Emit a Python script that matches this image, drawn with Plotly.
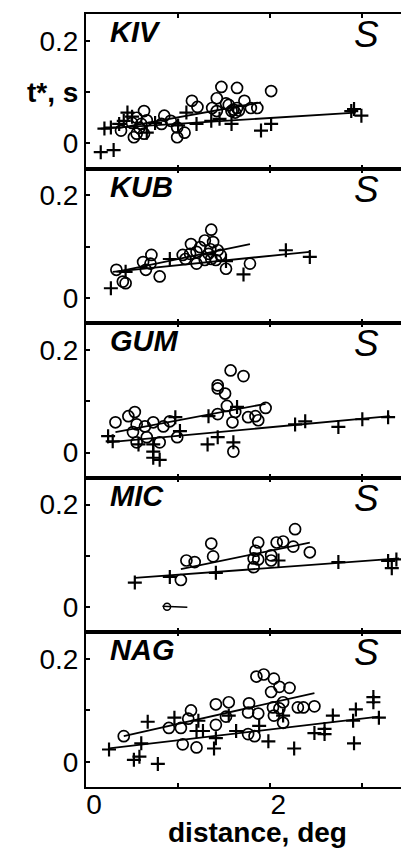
import plotly.graph_objects as go
from plotly.subplots import make_subplots

stations = ["KIV", "KUB", "GUM", "MIC", "NAG"]
phase_label = "S"

# ---------------- KIV ----------------
kiv_circ_x = [1.47, 1.64, 2.01, 1.15, 1.21, 1.42, 1.37, 1.42, 1.72, 1.79, 1.86, 1.64, 1.58, 1.55, 1.60, 1.52,
              0.63, 0.55, 0.60, 0.55, 0.63, 0.52, 0.58, 0.85, 0.82, 0.92, 0.99, 0.99, 1.07, 0.38, 0.50, 0.66,
              1.66, 1.62]
kiv_circ_y = [0.110, 0.108, 0.102, 0.083, 0.071, 0.088, 0.069, 0.063, 0.083, 0.069, 0.069, 0.069, 0.063, 0.075, 0.066, 0.078,
              0.063, 0.050, 0.038, 0.019, 0.019, 0.012, 0.030, 0.054, 0.038, 0.044, 0.031, 0.012, 0.021, 0.025, 0.040, 0.045,
              0.064, 0.060]
kiv_cross_x = [0.16, 0.30, 0.20, 0.27, 0.45, 0.41, 0.36, 0.66, 1.09, 1.20, 1.36, 1.58, 1.90, 2.01, 2.88, 2.99, 2.91,
               0.50, 0.75, 1.00, 1.45]
kiv_cross_y = [-0.017, -0.013, 0.029, 0.031, 0.060, 0.044, 0.038, 0.021, 0.060, 0.038, 0.044, 0.038, 0.025, 0.038, 0.063, 0.054, 0.067,
               0.052, 0.040, 0.035, 0.048]
kiv_fit_circ_x = [0.35, 1.90]
kiv_fit_circ_y = [0.030, 0.080]
kiv_fit_cross_x = [0.16, 2.93]
kiv_fit_cross_y = [0.029, 0.060]

# ---------------- KUB ----------------
kub_circ_x = [1.36, 1.14, 1.29, 1.38, 1.24, 1.35, 1.43, 1.20, 1.33, 1.46, 1.13, 1.08, 1.20, 1.29, 1.36, 1.41,
              1.78, 1.52, 0.71, 0.62, 0.70, 0.65, 0.80, 0.33, 0.43, 0.40, 1.05]
kub_circ_y = [0.133, 0.105, 0.112, 0.109, 0.099, 0.095, 0.093, 0.090, 0.086, 0.084, 0.086, 0.076, 0.067, 0.074, 0.076, 0.074,
              0.067, 0.057, 0.084, 0.070, 0.067, 0.055, 0.042, 0.055, 0.029, 0.032, 0.084]
kub_cross_x = [0.27, 0.91, 1.71, 2.17, 2.43, 0.43, 1.52]
kub_cross_y = [0.019, 0.076, 0.046, 0.093, 0.080, 0.051, 0.072]
kub_fit_circ_x = [0.33, 1.78]
kub_fit_circ_y = [0.051, 0.105]
kub_fit_cross_x = [0.29, 2.43]
kub_fit_cross_y = [0.051, 0.090]

# ---------------- GUM ----------------
gum_circ_x = [1.57, 1.71, 1.43, 1.43, 1.51, 1.53, 1.43, 1.62, 1.59, 1.76, 1.84, 1.87, 1.95, 1.60,
              0.32, 0.46, 0.53, 0.55, 0.64, 0.73, 0.84, 0.91, 0.51, 0.66, 0.55, 0.80, 0.99]
gum_circ_y = [0.160, 0.149, 0.131, 0.125, 0.115, 0.091, 0.075, 0.079, 0.059, 0.069, 0.071, 0.063, 0.087, 0.002,
              0.059, 0.071, 0.079, 0.055, 0.051, 0.059, 0.051, 0.061, 0.040, 0.030, 0.020, 0.020, 0.030]
gum_cross_x = [0.24, 0.29, 0.57, 0.73, 0.73, 0.73, 0.80, 0.97, 1.02, 1.33, 1.32, 1.43, 1.60, 1.64,
               2.27, 2.38, 2.74, 3.00, 3.28]
gum_cross_y = [0.032, 0.022, 0.016, 0.016, 0.002, -0.010, -0.014, 0.069, 0.042, 0.071, 0.016, 0.030, 0.020, 0.089,
               0.055, 0.061, 0.050, 0.065, 0.069]
gum_fit_circ_x = [0.32, 1.95]
gum_fit_circ_y = [0.040, 0.095]
gum_fit_cross_x = [0.23, 3.30]
gum_fit_cross_y = [0.020, 0.071]

# ---------------- MIC ----------------
mic_circ_x = [2.27, 1.36, 1.38, 1.09, 1.18, 1.87, 1.84, 1.82, 1.87, 1.82, 2.01, 2.01, 2.07, 2.14, 2.25, 2.43, 1.03]
mic_circ_y = [0.152, 0.124, 0.099, 0.091, 0.088, 0.126, 0.110, 0.095, 0.093, 0.078, 0.101, 0.091, 0.126, 0.128, 0.118, 0.107, 0.053]
mic_cross_x = [0.53, 0.91, 1.41, 2.09, 2.74, 3.28, 3.32, 3.37]
mic_cross_y = [0.048, 0.059, 0.067, 0.091, 0.088, 0.090, 0.076, 0.093]
mic_fit_circ_x = [1.03, 2.43]
mic_fit_circ_y = [0.074, 0.126]
mic_fit_cross_x = [0.53, 3.40]
mic_fit_cross_y = [0.057, 0.095]
mic_mark_x = [0.83, 1.10]
mic_mark_y = [0.002, 0.000]
mic_dot_x = [0.88]
mic_dot_y = [0.001]

# ---------------- NAG ----------------
nag_circ_x = [0.41, 0.90, 1.03, 1.14, 1.11, 1.05, 1.20, 1.41, 1.55, 1.41, 1.52, 1.76, 1.77, 1.87, 1.76, 1.83,
              1.85, 1.93, 2.04, 2.10, 2.01, 2.21, 2.14, 2.04, 2.03, 2.10, 2.14, 2.30, 2.36, 2.48]
nag_circ_y = [0.050, 0.066, 0.066, 0.100, 0.084, 0.034, 0.028, 0.112, 0.116, 0.072, 0.088, 0.096, 0.114, 0.094, 0.054, 0.050,
              0.166, 0.170, 0.162, 0.146, 0.136, 0.144, 0.116, 0.090, 0.106, 0.104, 0.076, 0.106, 0.106, 0.108]
nag_cross_x = [0.25, 0.52, 0.58, 0.78, 0.67, 0.60, 0.96, 1.20, 1.27, 1.22, 1.39, 1.41, 1.55, 1.63, 1.88, 1.98,
               2.14, 2.26, 2.48, 2.59, 2.59, 2.68, 2.90, 2.91, 2.93, 3.12, 3.12, 3.18]
nag_cross_y = [0.024, 0.004, 0.010, -0.004, 0.078, 0.036, 0.086, 0.060, 0.060, 0.080, 0.026, 0.046, 0.090, 0.060, 0.070, 0.040,
               0.090, 0.026, 0.056, 0.054, 0.064, 0.090, 0.080, 0.036, 0.102, 0.116, 0.126, 0.086]
nag_fit_circ_x = [0.41, 2.48]
nag_fit_circ_y = [0.050, 0.134]
nag_fit_cross_x = [0.25, 3.18]
nag_fit_cross_y = [0.026, 0.088]

panels = [
    (kiv_circ_x, kiv_circ_y, kiv_cross_x, kiv_cross_y, kiv_fit_circ_x, kiv_fit_circ_y, kiv_fit_cross_x, kiv_fit_cross_y),
    (kub_circ_x, kub_circ_y, kub_cross_x, kub_cross_y, kub_fit_circ_x, kub_fit_circ_y, kub_fit_cross_x, kub_fit_cross_y),
    (gum_circ_x, gum_circ_y, gum_cross_x, gum_cross_y, gum_fit_circ_x, gum_fit_circ_y, gum_fit_cross_x, gum_fit_cross_y),
    (mic_circ_x, mic_circ_y, mic_cross_x, mic_cross_y, mic_fit_circ_x, mic_fit_circ_y, mic_fit_cross_x, mic_fit_cross_y),
    (nag_circ_x, nag_circ_y, nag_cross_x, nag_cross_y, nag_fit_circ_x, nag_fit_circ_y, nag_fit_cross_x, nag_fit_cross_y),
]

y_tickvals = [0, 0.1, 0.2]
x_tickvals = [0, 1, 2, 3]
x_ticktext = ["0", "", "2", ""]
x_title = "distance, deg"
y_title = "t*, s"

FONT = "Liberation Sans, Arial, Helvetica, sans-serif"

fig = make_subplots(rows=5, cols=1, shared_xaxes=True, vertical_spacing=0)

for i, (cx, cy, px, py, fcx, fcy, fpx, fpy) in enumerate(panels):
    r = i + 1
    fig.add_trace(go.Scatter(x=fpx, y=fpy, mode="lines", line=dict(color="black", width=1.8),
                             showlegend=False, hoverinfo="skip"), row=r, col=1)
    fig.add_trace(go.Scatter(x=fcx, y=fcy, mode="lines", line=dict(color="black", width=1.8),
                             showlegend=False, hoverinfo="skip"), row=r, col=1)
    fig.add_trace(go.Scatter(x=px, y=py, mode="markers",
                             marker=dict(symbol="cross-thin", size=10, color="black",
                                         line=dict(color="black", width=2.2)),
                             showlegend=False), row=r, col=1)
    fig.add_trace(go.Scatter(x=cx, y=cy, mode="markers",
                             marker=dict(symbol="circle-open", size=11, color="black",
                                         line=dict(color="black", width=1.7)),
                             showlegend=False), row=r, col=1)
    ticktext = ["0", "<b>" + y_title + "</b>" if i == 0 else "", "0.2"]
    fig.update_yaxes(row=r, col=1, range=[-0.049, 0.252], tickvals=y_tickvals, ticktext=ticktext,
                     ticks="inside", ticklen=4, tickwidth=2, tickcolor="black",
                     showline=True, linecolor="black", linewidth=2, mirror=False,
                     showgrid=False, zeroline=False, automargin=False,
                     tickfont=dict(family=FONT, size=28, color="black"))
    fig.update_xaxes(row=r, col=1, range=[0, 3.42], tickvals=x_tickvals, ticktext=x_ticktext,
                     ticks="inside", ticklen=4, tickwidth=2, tickcolor="black",
                     showline=True, linecolor="black", linewidth=2, mirror="allticks",
                     showgrid=False, zeroline=False, showticklabels=(r == 5), automargin=False,
                     ticklabelstandoff=-9, ticklabelshift=8,
                     tickfont=dict(family=FONT, size=28, color="black"))
    xd = "x domain" if r == 1 else f"x{r} domain"
    yd = "y domain" if r == 1 else f"y{r} domain"
    fig.add_annotation(xref=xd, yref=yd, x=0, y=1, xanchor="left", yanchor="top",
                       xshift=22, yshift=0, showarrow=False,
                       text="<b><i>" + stations[i] + "</i></b>",
                       font=dict(family=FONT, size=29, color="black"))
    fig.add_annotation(xref=xd, yref=yd, x=1, y=1, xanchor="right", yanchor="top",
                       xshift=-20, yshift=2, showarrow=False,
                       text="<i>" + phase_label + "</i>",
                       font=dict(family=FONT, size=37, color="black"))

# MIC smudge marks near zero
fig.add_trace(go.Scatter(x=mic_mark_x, y=mic_mark_y, mode="lines", line=dict(color="black", width=1.5),
                         showlegend=False, hoverinfo="skip"), row=4, col=1)
fig.add_trace(go.Scatter(x=mic_dot_x, y=mic_dot_y, mode="markers",
                         marker=dict(symbol="circle-open", size=7, color="black", line=dict(color="black", width=1.5)),
                         showlegend=False, hoverinfo="skip"), row=4, col=1)

fig.add_annotation(xref="x5", yref="paper", x=1.86, y=0, yshift=-45, xanchor="center", yanchor="middle",
                   showarrow=False, text="<b>" + x_title + "</b>",
                   font=dict(family=FONT, size=28, color="black"))

fig.update_layout(width=401, height=848, margin=dict(l=86, r=0, t=14, b=61, autoexpand=False),
                  paper_bgcolor="white", plot_bgcolor="white")

fig.write_html("out.html", config={"displayModeBar": False},
               post_script="document.body.style.margin='0';document.body.style.padding='0';"
                           "document.documentElement.style.overflow='hidden';")
